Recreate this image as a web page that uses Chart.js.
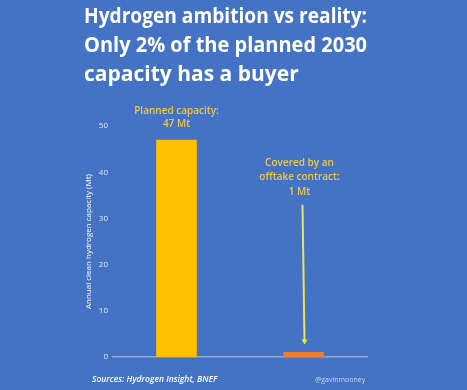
<!DOCTYPE html>
<html>
<head>
<meta charset="utf-8">
<script src="https://cdn.jsdelivr.net/npm/chart.js@4"></script>
<style>
  html, body { margin: 0; padding: 0; background: #4472C4; }
  #wrap { width: 467px; height: 390px; position: relative; }
</style>
</head>
<body>
<div id="wrap"><canvas id="chart" width="467" height="390"></canvas></div>
<script>
const titleLines = ['Hydrogen ambition vs reality:', 'Only 2% of the planned 2030', 'capacity has a buyer'];
const categories = ['Planned capacity', 'Covered by an offtake contract'];
const capacity = [47, 1];
const barColors = ['#FFC000', '#ED7D31'];
const barNotes = [['Planned capacity:', '47 Mt'], ['Covered by an', 'offtake contract:', '1 Mt']];
const yTitle = 'Annual clean hydrogen capacity (Mt)';
const sourceText = 'Sources: Hydrogen Insight, BNEF';
const handleText = '@gavinmooney';

const NOTE_COLOR = '#EBC94B';
const ARROW_COLOR = '#E6E65A';

// labels over the bars, the arrow and the footer
const notesPlugin = {
  id: 'notes',
  afterDatasetsDraw(chart) {
    const ctx = chart.ctx;
    const x = chart.scales.x;
    const y = chart.scales.y;
    ctx.save();
    ctx.fillStyle = NOTE_COLOR;
    ctx.textAlign = 'center';
    ctx.textBaseline = 'middle';
    ctx.font = '600 10px "Open Sans"';

    // first bar: label sits just above the bar top
    const x0 = x.getPixelForValue(0);
    const top0 = y.getPixelForValue(capacity[0]);
    barNotes[0].forEach((line, i) => {
      ctx.fillText(line, x0, top0 - 29 + i * 13);
    });

    // second bar: label high up, arrow down to the bar
    const x1 = x.getPixelForValue(1);
    const top1 = y.getPixelForValue(capacity[1]);
    barNotes[1].forEach((line, i) => {
      ctx.fillText(line, x1 - 4, y.getPixelForValue(42) + i * 14.5);
    });

    const ax0 = x1 - 1, ay0 = y.getPixelForValue(33);
    const ax1 = x1 + 1, ay1 = top1 - 8;
    ctx.strokeStyle = ARROW_COLOR;
    ctx.fillStyle = ARROW_COLOR;
    ctx.lineWidth = 2;
    ctx.beginPath();
    ctx.moveTo(ax0, ay0);
    ctx.lineTo(ax1, ay1 - 4);
    ctx.stroke();
    ctx.beginPath();
    ctx.moveTo(ax1 - 3, ay1 - 5);
    ctx.lineTo(ax1 + 3, ay1 - 5);
    ctx.lineTo(ax1, ay1);
    ctx.closePath();
    ctx.fill();

    // footer
    ctx.textAlign = 'left';
    ctx.fillStyle = '#FFFFFF';
    ctx.font = 'italic 600 8.5px "Open Sans"';
    ctx.fillText(sourceText, 92, 380);
    ctx.fillStyle = '#C9D6F0';
    ctx.font = '7px "Open Sans"';
    ctx.fillText(handleText, 315, 380);
    ctx.restore();
  }
};

new Chart(document.getElementById('chart'), {
  type: 'bar',
  data: {
    labels: categories,
    datasets: [{
      data: capacity,
      backgroundColor: barColors,
      borderWidth: 0,
      barThickness: 40
    }]
  },
  options: {
    responsive: false,
    animation: false,
    layout: { padding: { left: 84, right: 100, bottom: 33, top: 0 } },
    plugins: {
      legend: { display: false },
      tooltip: { enabled: false },
      title: {
        display: true,
        text: titleLines,
        align: 'start',
        color: '#FFFFFF',
        font: { family: 'Open Sans', size: 21, weight: 'bold', lineHeight: 1.4 },
        padding: { top: 2, bottom: 36 }
      }
    },
    scales: {
      x: {
        grid: { display: false },
        border: { display: true, color: '#8EA9DB', width: 1.5 },
        ticks: { display: false },
        afterFit(scale) { scale.height = 0; }
      },
      y: {
        min: 0,
        max: 50,
        grid: { display: false, drawTicks: false },
        border: { display: false },
        ticks: {
          stepSize: 10,
          color: '#E4EAF6',
          padding: 5,
          font: { family: 'Open Sans', size: 8 }
        },
        title: {
          display: true,
          text: yTitle,
          color: '#FFFFFF',
          padding: 0,
          font: { family: 'Open Sans', size: 8 }
        },
        afterFit(scale) { scale.width = 29; }
      }
    }
  },
  plugins: [notesPlugin]
});
</script>
</body>
</html>
